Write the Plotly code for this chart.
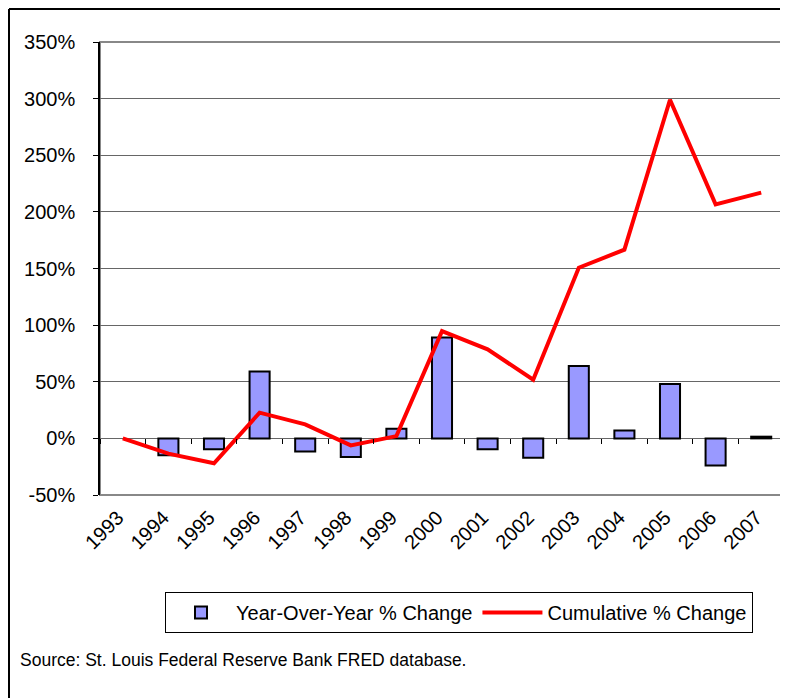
import plotly.graph_objects as go

years = [str(y) for y in range(1993, 2008)]
yoy_change = [None, -15, -9.5, 59, -11.5, -16.5, 8.5, 89, -9.5, -17, 64, 7, 48, -24, 1.5]
cumulative_change = [0, -13.5, -22, 22.7, 12.4, -6.2, 2, 94.7, 78.6, 51.8, 150.7, 166.6, 299, 206.6, 217]
y_ticks = [-50, 0, 50, 100, 150, 200, 250, 300, 350]
y_tick_labels = [f"{v}%" for v in y_ticks]

FONT = "Liberation Sans, Arial, sans-serif"

# page body has an 8px margin: figure is placed at (8, 8) in the window
W, H = 780, 690
L, R, T, B = 92, 4, 34, 203
PW, PH = W - L - R, H - T - B


def px(x):  # figure-pixel x -> paper
    return (x - L) / PW


def py(y):  # figure-pixel y -> paper
    return 1 - (y - T) / PH


fig = go.Figure()
fig.add_trace(go.Bar(
    x=years, y=yoy_change, name="Year-Over-Year % Change",
    marker=dict(color="#9999FF", line=dict(color="black", width=2)),
))
fig.add_trace(go.Scatter(
    x=years, y=cumulative_change, name="Cumulative % Change", mode="lines",
    line=dict(color="#FF0000", width=4),
))
# invisible trace to drive the tick axis at the zero line
fig.add_trace(go.Scatter(x=years, y=[None] * len(years), xaxis="x2",
                         showlegend=False, hoverinfo="skip"))

fig.update_layout(
    width=W, height=H,
    margin=dict(l=L, r=R, t=T, b=B),
    paper_bgcolor="white", plot_bgcolor="white",
    font=dict(family=FONT, color="black", size=18),
    bargap=0.56,
    showlegend=True,
    legend=dict(
        orientation="h", x=px(451), xanchor="center", y=py(584), yanchor="top",
        bordercolor="black", borderwidth=1, font=dict(size=20),
        itemwidth=60, bgcolor="white",
    ),
    xaxis=dict(
        type="category", categoryorder="array", categoryarray=years,
        range=[-0.5, 14.5], tickangle=-45, ticks="", showgrid=False,
        showline=False, zeroline=False, tickfont=dict(size=20),
        ticklabelshift=-5, ticklabelstandoff=6,
    ),
    xaxis2=dict(
        type="category", categoryorder="array", categoryarray=years,
        overlaying="x", anchor="free", position=(50 / 400), side="bottom",
        range=[-0.5, 14.5], tickson="boundaries", ticks="outside", ticklen=5,
        tickcolor="black", showticklabels=False, showgrid=False,
        showline=False, zeroline=False,
    ),
    yaxis=dict(
        range=[-50, 350], tickvals=y_ticks, ticktext=y_tick_labels,
        showgrid=True, gridcolor="#666666", gridwidth=1, zeroline=False,
        showline=True, linecolor="black", linewidth=1.5,
        ticks="outside", ticklen=5, tickcolor="black",
        tickfont=dict(size=20), ticklabelstandoff=14,
    ),
    shapes=[
        dict(type="rect", xref="paper", yref="paper", x0=0, x1=1, y0=0, y1=1,
             line=dict(color="#888888", width=2), layer="below"),
        dict(type="line", xref="paper", yref="paper", x0=px(1), x1=1.2,
             y0=py(1), y1=py(1), line=dict(color="black", width=2)),
        dict(type="line", xref="paper", yref="paper", x0=px(1), x1=px(1),
             y0=-0.6, y1=py(1), line=dict(color="black", width=2)),
    ],
    annotations=[
        dict(text="Source: St. Louis Federal Reserve Bank FRED database.",
             xref="paper", yref="paper", x=px(10), y=py(652),
             xanchor="left", yanchor="middle", showarrow=False,
             font=dict(size=17.5)),
    ],
)

fig.write_html("out.html")
